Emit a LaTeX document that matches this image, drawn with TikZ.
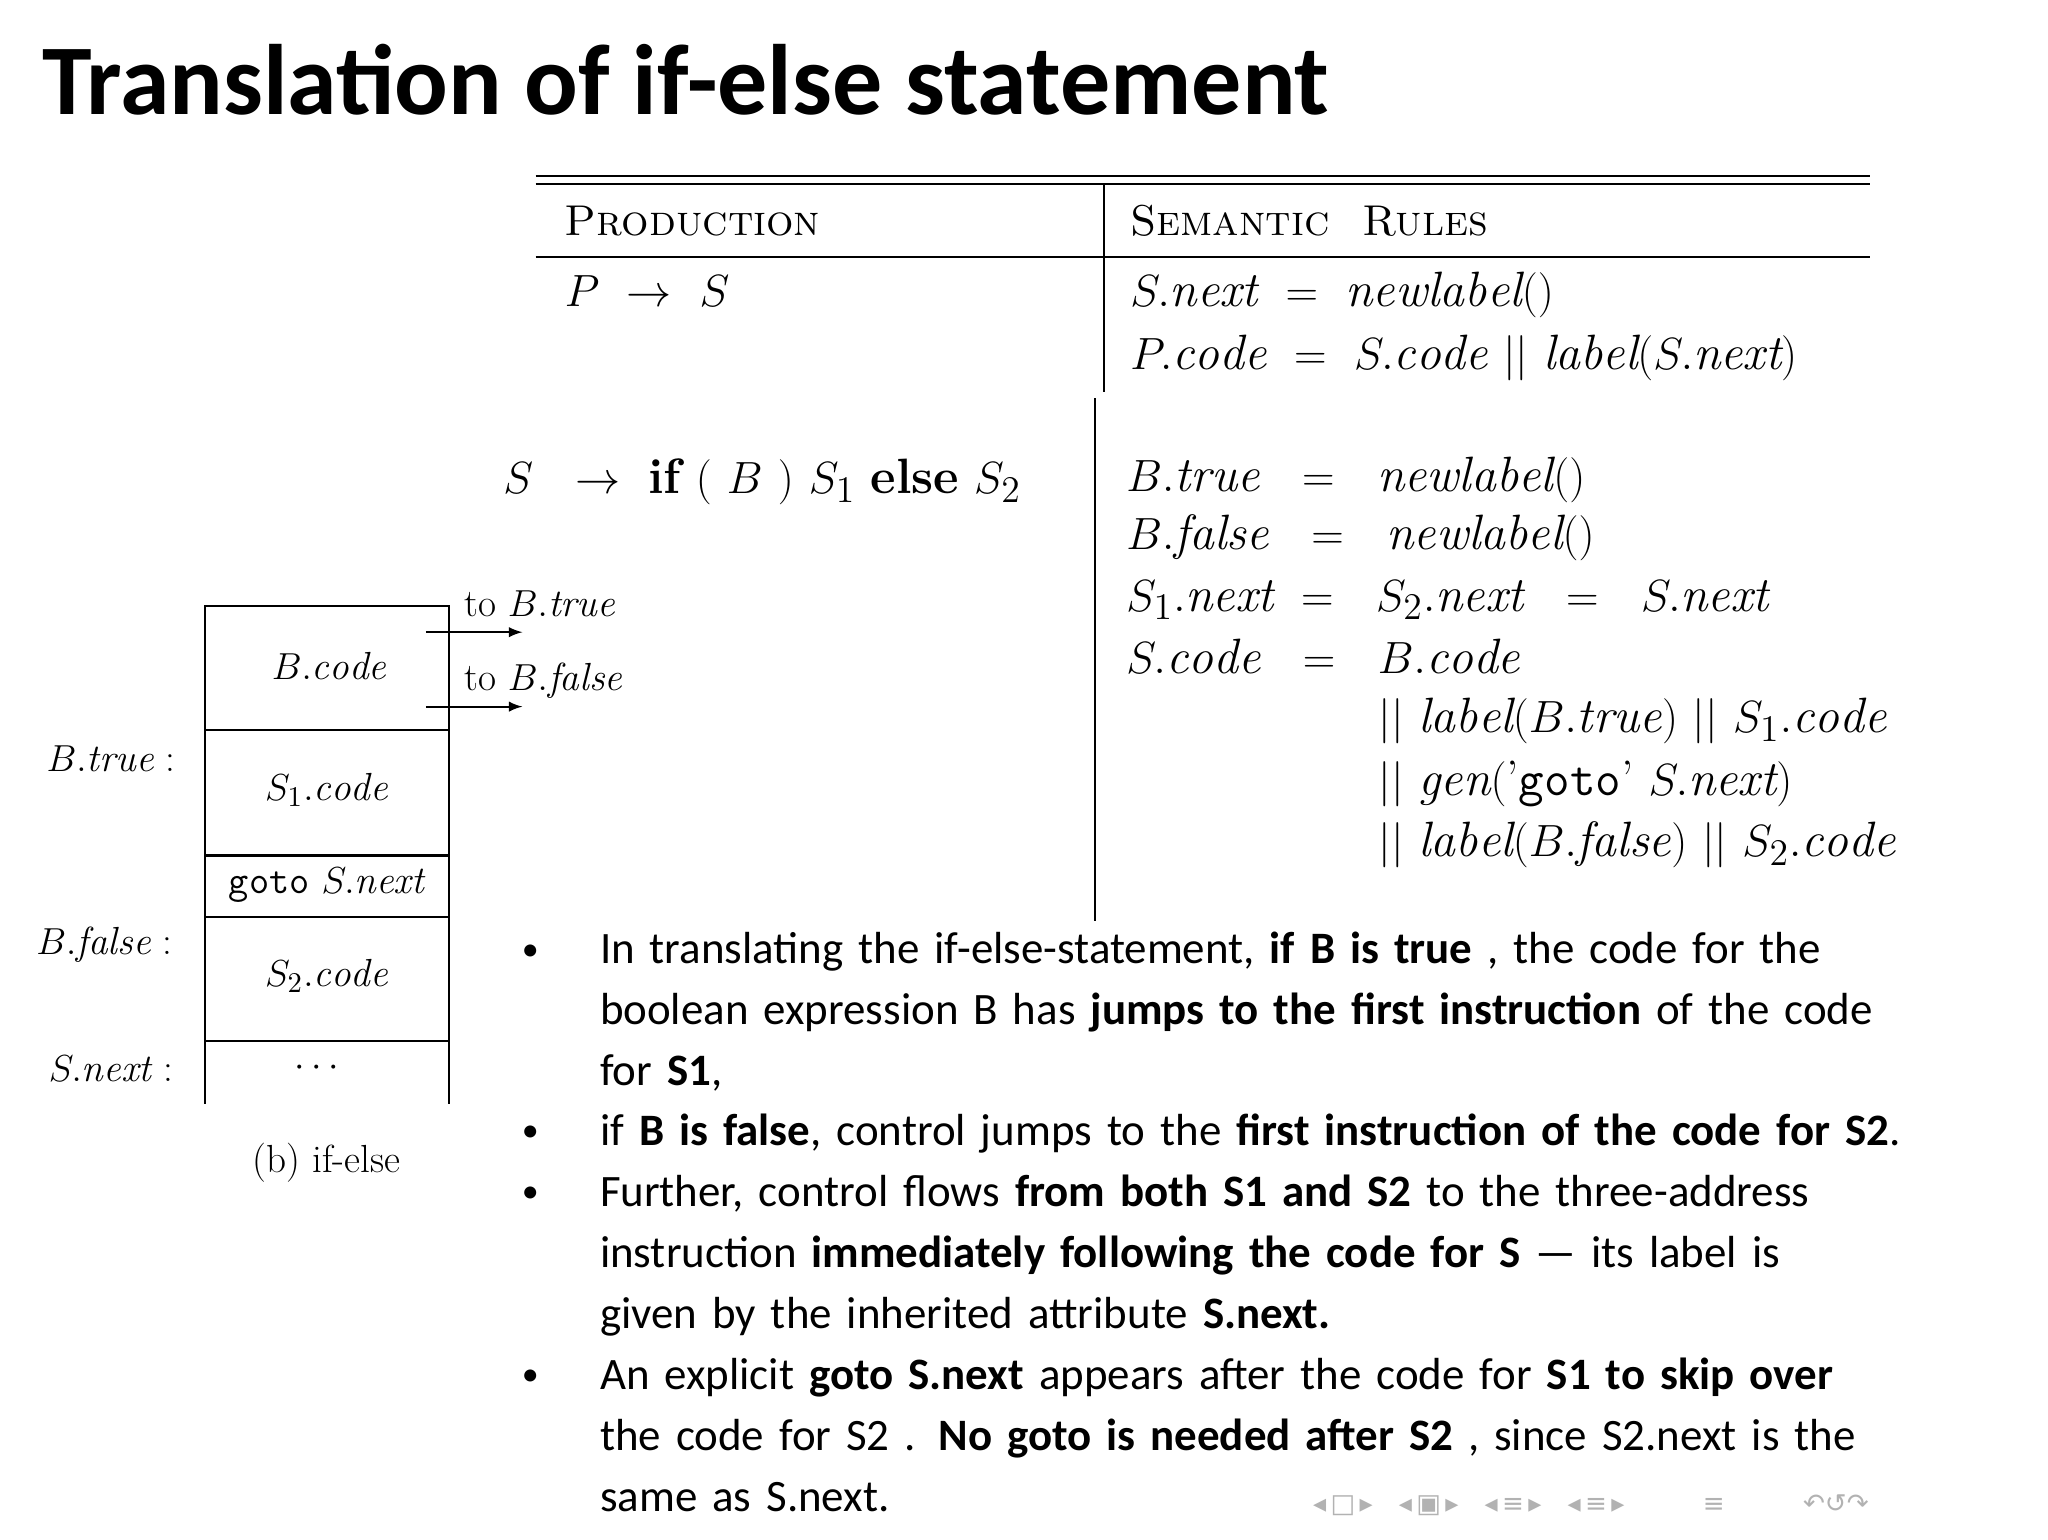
\documentclass[tikz,border=0pt]{standalone}
\usepackage{fontspec}
\usepackage{amsmath}
\newfontfamily\carlito{Carlito}
\newfontfamily\dejavu{DejaVu Sans}
\begin{document}
\begin{tikzpicture}[x=0.5pt,y=-0.5pt,
  tt/.style={anchor=base west,inner sep=0pt,font=\fontsize{19}{21}\selectfont},
  dg/.style={inner sep=0pt,font=\fontsize{15}{17}\selectfont},
  bl/.style={anchor=base west,inner sep=0pt,font=\carlito\fontsize{17.2}{23.3}\selectfont,text width=560pt,align=left},
  bul/.style={anchor=base,inner sep=0pt,font=\carlito\fontsize{13}{20}\selectfont},
  ln/.style={line width=0.8pt}]
\useasboundingbox (0,0) rectangle (1568,1179);
\fill[white] (0,0) rectangle (1568,1179);
\node[anchor=base west,inner sep=0pt,font=\carlito\bfseries\fontsize{38.3}{40}\selectfont] (title) at (32,88) {Translation of if-else statement};
% table
\draw[ln] (410,135) -- (1432,135);
\draw[ln] (410,141) -- (1432,141);
\draw[ln] (410,197) -- (1432,197);
\draw[ln] (845,141) -- (845,300);
\draw[ln] (838,305) -- (838,705);
\node[tt,font=\fontsize{16.5}{18}\selectfont] (h1) at (432,180) {\textsc{Production}};
\node[tt,font=\fontsize{16.5}{18}\selectfont] (h2) at (865,180) {\textsc{Semantic\ \ Rules}};
\node[tt] (p1) at (432,235) {$P\ \rightarrow\ S$};
\node[tt] (r1) at (865,235) {$S.\mathit{next}\ =\ \mathit{newlabel}()$};
\node[tt] (r2) at (865,283) {$P.\mathit{code}\ =\ S.\mathit{code}\ ||\ \mathit{label}(S.\mathit{next})$};
\node[tt] (p2) at (385,378) {$S\ \ \rightarrow\ \textbf{if}\ (\ B\ )\ S_1\ \textbf{else}\ S_2$};
\node[tt] (s1) at (862,376) {$B.\mathit{true}\ \ =\ \ \mathit{newlabel}()$};
\node[tt] (s2) at (862,421) {$B.\mathit{false}\ \ =\ \ \mathit{newlabel}()$};
\node[tt] (s3) at (862,468) {$S_1.\mathit{next}\ =\ \ S_2.\mathit{next}\ \ =\ \ S.\mathit{next}$};
\node[tt] (s4) at (862,516) {$S.\mathit{code}\ \ =\ \ B.\mathit{code}$};
\node[tt] (s5) at (1055,561) {$||\ \mathit{label}(B.\mathit{true})\ ||\ S_1.\mathit{code}$};
\node[tt] (s6) at (1055,609) {$||\ \mathit{gen}(\text{'}\texttt{goto}\text{'}\ S.\mathit{next})$};
\node[tt] (s7) at (1055,656) {$||\ \mathit{label}(B.\mathit{false})\ ||\ S_2.\mathit{code}$};
% diagram
\draw[ln] (157,845) -- (157,464) -- (344,464) -- (344,845);
\foreach \yy in {559,655,702,797} \draw[ln] (157,\yy) -- (344,\yy);
\node[dg] (bc) at (252,510) {$B.\mathit{code}$};
\node[dg] (c1) at (250,605) {$S_1.\mathit{code}$};
\node[dg] (gt) at (250,678) {\texttt{goto} $S.\mathit{next}$};
\node[dg] (c2) at (250,747) {$S_2.\mathit{code}$};
\node[dg] (dt) at (245,818) {$\cdots$};
\node[dg] (lt) at (85,581) {$B.\mathit{true}$ :};
\node[dg] (lf) at (80,723) {$B.\mathit{false}$ :};
\node[dg] (ln) at (85,818) {$S.\mathit{next}$ :};
\coordinate (a1) at (326,484); \coordinate (a1e) at (400,484);
\coordinate (a2) at (326,541); \coordinate (a2e) at (400,541);
\draw[ln,-latex] (a1) -- (a1e);
\draw[ln,-latex] (a2) -- (a2e);
\node[dg,anchor=base west] (tt1) at (355,472) {to $B.\mathit{true}$};
\node[dg,anchor=base west] (tt2) at (355,529) {to $B.\mathit{false}$};
\node[dg] (cap) at (250,890) {(b) if-else};
% bullets
\foreach \yy in {735,874,921,1061} \node[bul] at (406,\yy) {•};
\node[bl] (b1) at (459,738) {In translating the if-else-statement, \textbf{if B is true} , the code for the\\ boolean expression B has \textbf{jumps to the first instruction} of the code\\ for \textbf{S1},};
\node[bl] (b2) at (459,877) {if \textbf{B is false}, control jumps to the \textbf{first instruction of the code for S2}.};
\node[bl] (b3) at (459,924) {Further, control flows \textbf{from both S1 and S2} to the three-address\\ instruction \textbf{immediately following the code for S} — its label is\\ given by the inherited attribute \textbf{S.next.}};
\node[bl] (b4) at (459,1064) {An explicit \textbf{goto S.next} appears after the code for \textbf{S1 to skip over}\\ the code for S2 . \textbf{No goto is needed after S2} , since S2.next is the\\ same as S.next.};
% nav
\node[inner sep=0pt,anchor=base west,text=gray!60,font=\dejavu\fontsize{10}{10}\selectfont] (nav) at (1005,1158) {◂\,□\,▸\quad ◂\,▣\,▸\quad ◂\,≡\,▸\quad ◂\,≡\,▸\qquad\quad ≡\qquad\quad ↶↺↷};
\end{tikzpicture}
\end{document}
